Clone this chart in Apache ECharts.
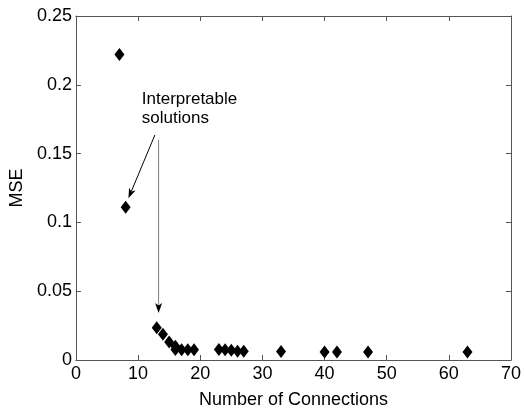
<!DOCTYPE html>
<html>
<head>
<meta charset="utf-8">
<script src="https://cdn.jsdelivr.net/npm/echarts@6/dist/echarts.min.js"></script>
<style>
  html, body { margin: 0; padding: 0; background: #fff; }
  #chart { width: 524px; height: 418px; }
</style>
</head>
<body>
<div id="chart"></div>
<script>
// Number of connections of each solution and its mean squared error
const connections = [7, 8, 13, 14, 15, 16, 16, 17, 18, 19, 23, 24, 25, 26, 27, 33, 40, 42, 47, 63];
const mse = [0.222, 0.111, 0.0235, 0.0187, 0.013, 0.0100, 0.0076, 0.0075, 0.0075, 0.0075,
             0.0076, 0.0074, 0.0070, 0.0064, 0.0064, 0.0062, 0.0058, 0.0058, 0.0058, 0.0058];

const xTicks = [0, 10, 20, 30, 40, 50, 60, 70];
const yTicks = [0, 0.05, 0.1, 0.15, 0.2, 0.25];

// Annotation: label and two arrows, in data coordinates
const noteText = 'Interpretable\nsolutions';
const notePos = [10.6, 0.196];
const arrows = [
  { from: [12.7, 0.1635], to: [8.45, 0.1175], color: '#000' },
  { from: [13.3, 0.160], to: [13.3, 0.0342], color: '#808080' }
];

const FONT = 'Liberation Sans, Arial, Helvetica, sans-serif';
const axisColor = '#555';

const chart = echarts.init(document.getElementById('chart'), null, { renderer: 'canvas' });

function boxAxis(base, showLabels) {
  return Object.assign({
    type: 'value',
    axisLine: { show: true, onZero: false, lineStyle: { color: axisColor, width: 1 } },
    axisTick: { show: true, inside: true, length: 5, lineStyle: { color: axisColor } },
    axisLabel: { show: showLabels, color: '#000', fontFamily: FONT, fontSize: 18 },
    splitLine: { show: false }
  }, base);
}

chart.setOption({
  animation: false,
  backgroundColor: '#fff',
  grid: { left: 75, right: 10.5, top: 16, bottom: 58, containLabel: false },
  xAxis: [
    boxAxis({
      position: 'bottom', min: xTicks[0], max: xTicks[xTicks.length - 1], interval: 10,
      name: 'Number of Connections', nameLocation: 'middle', nameGap: 31,
      nameTextStyle: { color: '#000', fontFamily: FONT, fontSize: 18 },
      axisLabel: { show: true, color: '#000', fontFamily: FONT, fontSize: 18, margin: 5 }
    }, true),
    boxAxis({ position: 'top', min: xTicks[0], max: xTicks[xTicks.length - 1], interval: 10 }, false)
  ],
  yAxis: [
    boxAxis({
      position: 'left', min: yTicks[0], max: yTicks[yTicks.length - 1], interval: 0.05,
      name: 'MSE', nameLocation: 'middle', nameGap: 46,
      nameTextStyle: { color: '#000', fontFamily: FONT, fontSize: 18 },
      axisLabel: { show: true, color: '#000', fontFamily: FONT, fontSize: 18, margin: 4 }
    }, true),
    boxAxis({ position: 'right', min: yTicks[0], max: yTicks[yTicks.length - 1], interval: 0.05 }, false)
  ],
  series: [{
    type: 'scatter',
    xAxisIndex: 0,
    yAxisIndex: 0,
    symbol: 'diamond',
    symbolSize: [10, 13],
    itemStyle: { color: '#000', opacity: 1 },
    data: connections.map((c, i) => [c, mse[i]])
  }]
});

// Draw the annotation text and arrows on top of the plot
const toPx = p => chart.convertToPixel({ xAxisIndex: 0, yAxisIndex: 0 }, p);
const elements = [];
const tp = toPx(notePos);
elements.push({
  type: 'text', x: tp[0], y: tp[1], z: 100,
  style: { text: noteText, fill: '#000', font: '17px ' + FONT, lineHeight: 19, textAlign: 'left', textVerticalAlign: 'top' }
});
arrows.forEach(a => {
  const s = toPx(a.from), t = toPx(a.to);
  const dx = t[0] - s[0], dy = t[1] - s[1];
  const len = Math.hypot(dx, dy);
  const ux = dx / len, uy = dy / len, nx = -uy, ny = ux;
  const L = 10, W = 7;
  const bx = t[0] - ux * L, by = t[1] - uy * L;
  const notchX = t[0] - ux * L * 0.75, notchY = t[1] - uy * L * 0.75;
  elements.push({
    type: 'line', z: 100,
    shape: { x1: s[0], y1: s[1], x2: notchX, y2: notchY },
    style: { stroke: a.color, lineWidth: 1 }
  });
  elements.push({
    type: 'polygon', z: 101,
    shape: { points: [[t[0], t[1]], [bx + nx * W / 2, by + ny * W / 2], [notchX, notchY], [bx - nx * W / 2, by - ny * W / 2]] },
    style: { fill: '#000' }
  });
});
chart.setOption({ graphic: elements });
</script>
</body>
</html>
